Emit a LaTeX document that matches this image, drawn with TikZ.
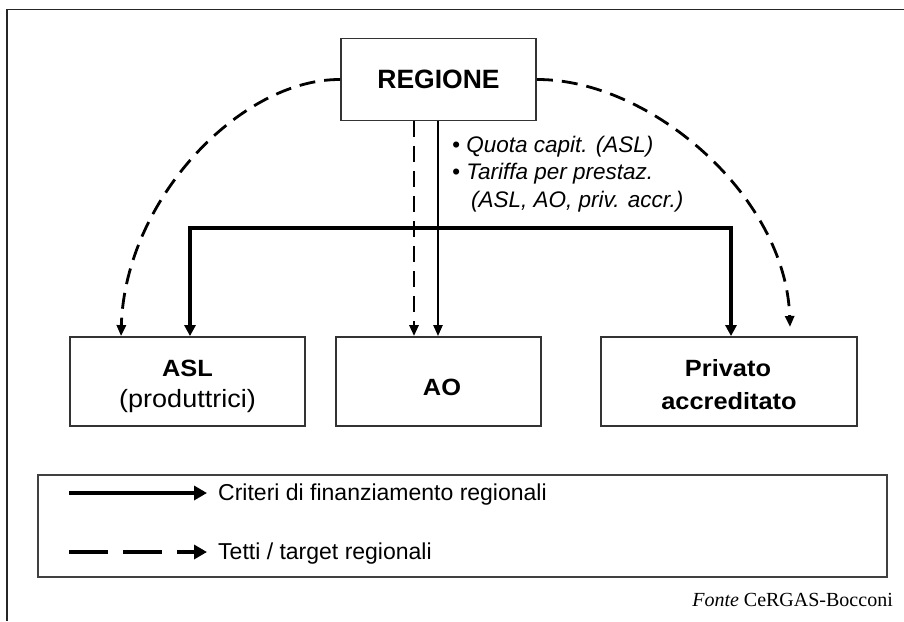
\documentclass[tikz,border=0pt]{standalone}
\usepackage{fontspec}
\setmainfont{Liberation Serif}
\newfontfamily\diagfont{Liberation Sans}
\newfontfamily\widefont[FakeStretch=1.08]{Liberation Sans}
\usetikzlibrary{arrows.meta}

\tikzset{
  box/.style={draw=black!80, line width=1.8pt, fill=white, inner sep=0pt},
  boldlbl/.style={font=\widefont\bfseries\fontsize{23.5}{27}\selectfont, inner sep=0pt},
  note/.style={font=\diagfont\itshape\fontsize{22.5}{26}\selectfont, anchor=west, inner sep=0pt},
  legtext/.style={font=\diagfont\fontsize{23}{26}\selectfont, anchor=west, inner sep=0pt},
  flow/.style={line width=3.6pt, -{Triangle[length=11pt,width=11pt]}},
  thinflow/.style={line width=2.2pt, -{Triangle[length=11pt,width=9pt]}},
  target/.style={line width=2.8pt, dash pattern=on 16pt off 9pt, -{Triangle[length=11pt,width=9pt]}},
}

\begin{document}
\begin{tikzpicture}[x=1pt, y=-1pt]
  \useasboundingbox (0,0) rectangle (904,621);

  % outer frame (top and left edges)
  \draw[line width=1.8pt, black!85] (904,9.5) -- (7,9.5) -- (7,621);

  % region and the three providers
  \node[box, minimum width=195pt, minimum height=82pt, font=\diagfont\bfseries\fontsize{26.5}{30}\selectfont]
    (reg) at (438.5,79.5) {REGIONE};
  \node[box, minimum width=235pt, minimum height=89pt] (asl) at (187.5,381.5) {};
  \node[box, minimum width=205pt, minimum height=89pt] (ao) at (438.5,381.5) {};
  \node[box, minimum width=256pt, minimum height=89pt] (priv) at (729,381.5) {};

  \node[boldlbl] (asltxt) at (187.5,368) {ASL};
  \node[inner sep=0pt, font=\widefont\fontsize{25}{28}\selectfont] (aslsub) at (187.5,401) {(produttrici)};
  \node[boldlbl] (aotxt) at (442,387) {AO};
  \node[boldlbl] (privtxt) at (728,368) {Privato};
  \node[boldlbl] (privsub) at (729,401) {accreditato};

  % funding criteria: trunk, bar and branches
  \coordinate (bar-l) at (190,228);
  \coordinate (bar-r) at (731,228);
  \draw[line width=3.6pt, line cap=rect] (bar-l) -- (bar-r);
  \draw[thinflow] (reg.south -| 438,0) -- (ao.north -| 438,0);
  \draw[flow] (bar-l) -- (asl.north -| bar-l);
  \draw[flow] (bar-r) -- (priv.north -| bar-r);

  % regional targets
  \draw[target] (reg.south -| 414,0) -- (ao.north -| 414,0);
  \coordinate (tgt-r) at (790,327);
  \draw[target] (reg.west) .. controls (240,79) and (125,200) .. (asl.north -| 121,0);
  \draw[target] (reg.east) .. controls (650,79) and (786,196) .. (tgt-r);

  % funding notes
  \node[note] (n1) at (452,147) {\textbullet\ Quota capit. (ASL)};
  \node[note] (n2) at (452,174) {\textbullet\ Tariffa per prestaz.};
  \node[note] (n3) at (471,202) {(ASL, AO, priv. accr.)};

  % legend
  \node[box, draw=black!75, minimum width=849pt, minimum height=102pt] (leg) at (462.5,526) {};
  \coordinate (l1a) at (69,493);
  \coordinate (l1b) at (207,493);
  \coordinate (l2a) at (69,552);
  \coordinate (l2b) at (207,552);
  \draw[line width=4pt, -{Triangle[length=13pt,width=14pt]}] (l1a) -- (l1b);
  \draw[line width=4pt, dash pattern=on 39pt off 15pt, -{Triangle[length=13pt,width=14pt]}] (l2a) -- (l2b);
  \node[legtext] (leg1) at (218,495) {Criteri di finanziamento regionali};
  \node[legtext] (leg2) at (218,554) {Tetti / target regionali};

  % source
  \node[anchor=base east, inner sep=0pt, font=\fontsize{20}{23}\selectfont] (src) at (893,606) {\textit{Fonte} CeRGAS-Bocconi};
\end{tikzpicture}
\end{document}
